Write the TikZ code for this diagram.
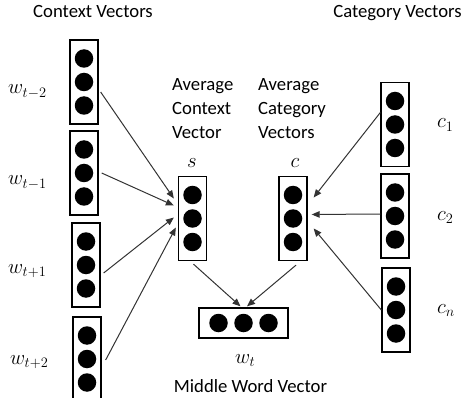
\documentclass[tikz,border=0pt]{standalone}
\usepackage{fontspec}
\setmainfont{Carlito}
\usetikzlibrary{arrows.meta,calc}

\tikzset{
  vbox/.style={draw, line width=1.3pt, minimum width=28pt, minimum height=84pt, inner sep=0pt},
  hbox/.style={draw, line width=1.3pt, minimum width=89pt, minimum height=30pt, inner sep=0pt},
  dot/.style={circle, fill=black, minimum size=18.5pt, inner sep=0pt},
  lbl/.style={inner sep=0pt, anchor=base west, font=\fontsize{21}{24}\selectfont},
  arr/.style={-{Triangle[length=8pt,width=6.5pt]}, line width=1pt, draw=black!80},
}

\begin{document}
\begin{tikzpicture}[x=1pt, y=-1pt, font=\fontsize{18.7}{24}\selectfont]
\useasboundingbox (0,0) rectangle (463,398);
% vector boxes
\node[vbox] (wa) at (84,82) {};
\node[vbox] (wb) at (84,173) {};
\node[vbox] (wc) at (86,265) {};
\node[vbox] (wd) at (87,359) {};
\node[vbox] (s) at (192.5,218.5) {};
\node[vbox] (cavg) at (293,218.5) {};
\node[vbox] (ca) at (395,124.5) {};
\node[vbox] (cb) at (395,216) {};
\node[vbox] (cn) at (396,310) {};
\node[hbox] (mid) at (243.5,323) {};
\foreach \v in {wa,wb,wc,wd,s,cavg,ca,cb,cn}
  \foreach \k in {1,2,3}
    \node[dot] (\v\k) at ($(\v)+(0,{23.5*(\k-2)})$) {};
\foreach \k in {1,2,3}
  \node[dot] (mid\k) at ($(mid)+({25*(\k-2)},0)$) {};

% titles and labels
\node[inner sep=0pt, anchor=base] (ctxtitle) at (93,18) {Context Vectors};
\node[inner sep=0pt, anchor=base] (cattitle) at (397.5,18) {Category Vectors};
\node[inner sep=0pt, anchor=north west, align=left] (ctxavg) at (172,78) {Average\\Context\\Vector};
\node[inner sep=0pt, anchor=north west, align=left] (catavg) at (258,78) {Average\\Category\\Vectors};
\node[lbl, anchor=base] (slbl) at (192,168) {$s$};
\node[lbl, anchor=base] (clbl) at (295,168) {$c$};
\node[lbl] (walbl) at (8,94) {$w_{t-2}$};
\node[lbl] (wblbl) at (8,185) {$w_{t-1}$};
\node[lbl] (wclbl) at (8,273) {$w_{t+1}$};
\node[lbl] (wdlbl) at (10,364) {$w_{t+2}$};
\node[lbl] (calbl) at (437,128) {$c_1$};
\node[lbl] (cblbl) at (437,220) {$c_2$};
\node[lbl] (cnlbl) at (437,313) {$c_n$};
\node[lbl] (wtlbl) at (235,363) {$w_t$};
\node[inner sep=0pt, anchor=base] (midtitle) at (250.5,392) {Middle Word Vector};

% connectors
\draw[arr] ($(wa.east)+(2,10)$) -- ($(s.west)+(-4,-20)$);
\draw[arr] ($(wb.east)+(3,0)$) -- ($(s.west)+(-4,-13)$);
\draw[arr] ($(wc.east)+(3,8)$) -- ($(s.west)+(-4,-1)$);
\draw[arr] ($(wd.east)+(4,1)$) -- ($(s.west)+(-2,9)$);
\draw[arr] ($(s.south)+(1,3)$) -- ($(mid.north)+(-3,-1)$);
\draw[arr] ($(cavg.south)+(3,4)$) -- ($(mid.north)+(3.5,-1)$);
\draw[arr] ($(ca.west)+(0,-12)$) -- ($(cavg.east)+(6,-21)$);
\draw[arr] ($(cb.west)+(0,-2)$) -- ($(cavg.east)+(4,-4)$);
\draw[arr] (cn.west) -- ($(cavg.east)+(6,10)$);
\end{tikzpicture}
\end{document}
